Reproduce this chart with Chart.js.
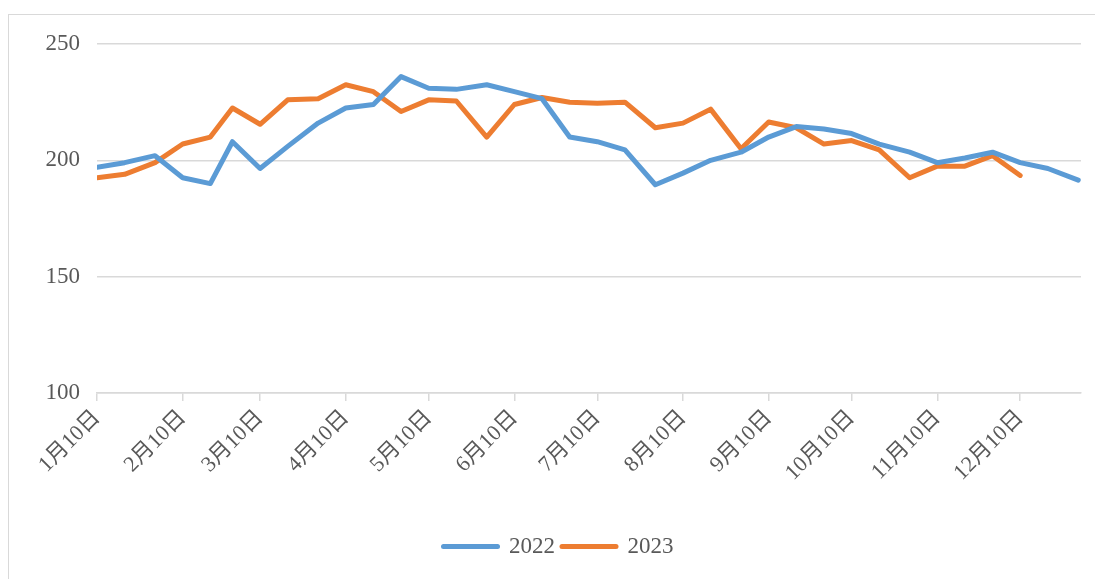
<!DOCTYPE html>
<html>
<head>
<meta charset="utf-8">
<script src="https://cdn.jsdelivr.net/npm/chart.js@4"></script>
<style>
  html, body { margin: 0; padding: 0; background: #fff; overflow: hidden; }
  #frame { position: absolute; left: 8px; top: 14px; width: 1200px; height: 700px; border: 1px solid #d9d9d9; }
  #wrap { position: absolute; left: 0; top: 0; width: 1095px; height: 579px; }
</style>
</head>
<body>
<div id="frame"></div>
<div id="wrap"><canvas id="myChart"></canvas></div>
<script>
// day of year of each sample (10th, 20th, last day of every month)
var sampleDays = [10, 20, 31, 41, 51, 59, 69, 79, 90, 100, 110, 120,
                  130, 140, 151, 161, 171, 181, 191, 201, 212, 222, 232, 243,
                  253, 263, 273, 283, 293, 304, 314, 324, 334, 344, 354, 365]

var values2022 = [197, 199, 202, 192.5, 190, 208, 196.5, 206, 216, 222.5, 224, 236,
                  231, 230.5, 232.5, 229.5, 226.5, 210, 208, 204.5, 189.5, 194.5, 200, 203.5,
                  210, 214.5, 213.5, 211.5, 207, 203.5, 199, 201, 203.5, 199, 196.5, 191.5]

var values2023 = [192.5, 194, 199, 207, 210, 222.5, 215.5, 226, 226.5, 232.5, 229.5, 221,
                  226, 225.5, 210, 224, 227, 225, 224.5, 225, 214, 216, 222, 205,
                  216.5, 214, 207, 208.5, 204.5, 192.5, 197.5, 197.5, 202, 193.5]

var tickDays = [10, 41, 69, 100, 130, 161, 191, 222, 253, 283, 314, 344]
var tickLabels = ['1月10日', '2月10日', '3月10日', '4月10日', '5月10日', '6月10日',
                  '7月10日', '8月10日', '9月10日', '10月10日', '11月10日', '12月10日']

var seriesNames = ['2022', '2023']
var colors = ['#5b9bd5', '#ed7d31']

function toPoints (vals) {
  var pts = []
  for (var i = 0; i < vals.length; i++) {
    pts.push({x: sampleDays[i], y: vals[i]})
  }
  return pts
}

Chart.defaults.font.family = '"Liberation Serif", "Noto Sans CJK SC", serif'
Chart.defaults.color = '#595959'

var ctx = document.getElementById('myChart').getContext('2d')
var chart = new Chart(ctx, {
  type: 'line',
  data: {
    datasets: [
      {label: seriesNames[0], data: toPoints(values2022), borderColor: colors[0], backgroundColor: colors[0]},
      {label: seriesNames[1], data: toPoints(values2023), borderColor: colors[1], backgroundColor: colors[1]}
    ]
  },
  options: {
    responsive: true,
    maintainAspectRatio: false,
    animation: false,
    layout: {padding: {top: 44, right: 14, bottom: 11, left: 36}},
    elements: {
      line: {borderWidth: 5, tension: 0, borderCapStyle: 'round', borderJoinStyle: 'round'},
      point: {radius: 0, hoverRadius: 0}
    },
    plugins: {
      tooltip: {enabled: false},
      legend: {
        position: 'bottom',
        labels: {
          usePointStyle: true,
          pointStyleWidth: 54,
          font: {size: 23},
          color: '#595959',
          padding: 7,
          // legend keys drawn as thick round-capped line segments
          generateLabels: function (chart) {
            return chart.data.datasets.map(function (ds, i) {
              return {
                text: ds.label,
                datasetIndex: i,
                pointStyle: 'line',
                strokeStyle: colors[i],
                fillStyle: colors[i],
                lineWidth: 5,
                lineCap: 'round',
                fontColor: '#595959',
                hidden: false
              }
            })
          }
        }
      }
    },
    scales: {
      x: {
        type: 'linear',
        min: 10,
        max: 366,
        afterBuildTicks: function (scale) {
          scale.ticks = tickDays.map(function (d) { return {value: d} })
        },
        afterFit: function (scale) { scale.height = 135 },
        ticks: {
          autoSkip: false,
          minRotation: 45,
          maxRotation: 45,
          padding: 4,
          font: {size: 22},
          color: '#595959',
          callback: function (value, index) { return tickLabels[index] }
        },
        grid: {drawOnChartArea: false, drawTicks: true, tickLength: 8, color: '#d9d9d9', lineWidth: 1.5},
        border: {display: true, color: '#d9d9d9', width: 1.5}
      },
      y: {
        min: 100,
        max: 250,
        afterFit: function (scale) { scale.width = 61 },
        ticks: {stepSize: 50, padding: 17, font: {size: 23}, color: '#595959'},
        grid: {drawTicks: false, color: '#d9d9d9', lineWidth: 1.5},
        border: {display: false}
      }
    }
  }
})
</script>
</body>
</html>
